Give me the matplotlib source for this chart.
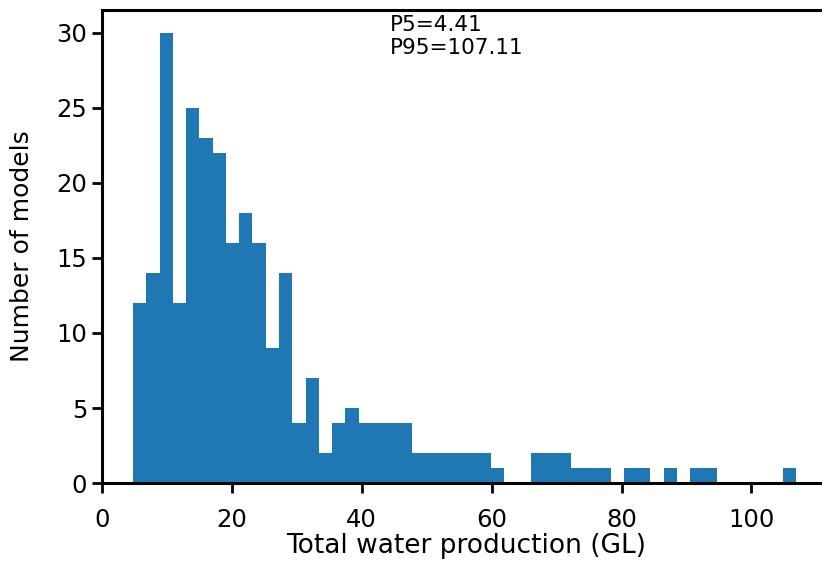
import numpy as np
import matplotlib
matplotlib.use('Agg')
import matplotlib.pyplot as plt

# histogram: 50 equal bins from the min to the max value
x_min = 4.8
x_max = 106.9
counts = [12, 14, 30, 12, 25, 23, 22, 16, 18, 16,
          9, 14, 4, 7, 2, 4, 5, 4, 4, 4,
          4, 2, 2, 2, 2, 2, 2, 1, 0, 0,
          2, 2, 2, 1, 1, 1, 0, 1, 1, 0,
          1, 0, 1, 1, 0, 0, 0, 0, 0, 1]
p5 = 4.41
p95 = 107.11

edges = np.linspace(x_min, x_max, len(counts) + 1)
centres = (edges[:-1] + edges[1:]) / 2

fig = plt.figure(figsize=(8.22, 5.65), dpi=100)
ax = fig.add_axes([0.124, 0.145, 0.885, 0.837])

ax.hist(centres, bins=edges, weights=counts, color='#1f77b4')

ax.set_xlim(0, 112)
ax.set_ylim(0, 31.5)
ax.set_xticks([0, 20, 40, 60, 80, 100])
ax.set_yticks([0, 5, 10, 15, 20, 25, 30])

for s in ax.spines.values():
    s.set_linewidth(2.2)
ax.tick_params(width=2, length=7, labelsize=17.5)
ax.tick_params(axis='x', pad=11)

ax.set_xlabel('Total water production (GL)', fontsize=19, labelpad=1)
ax.set_ylabel('Number of models', fontsize=18, labelpad=16)

ax.text(0.396, 0.99, 'P5=%.2f\nP95=%.2f' % (p5, p95), transform=ax.transAxes,
        fontsize=15.5, va='top', ha='left', linespacing=1.2)

fig.savefig('out.png', dpi=100)
